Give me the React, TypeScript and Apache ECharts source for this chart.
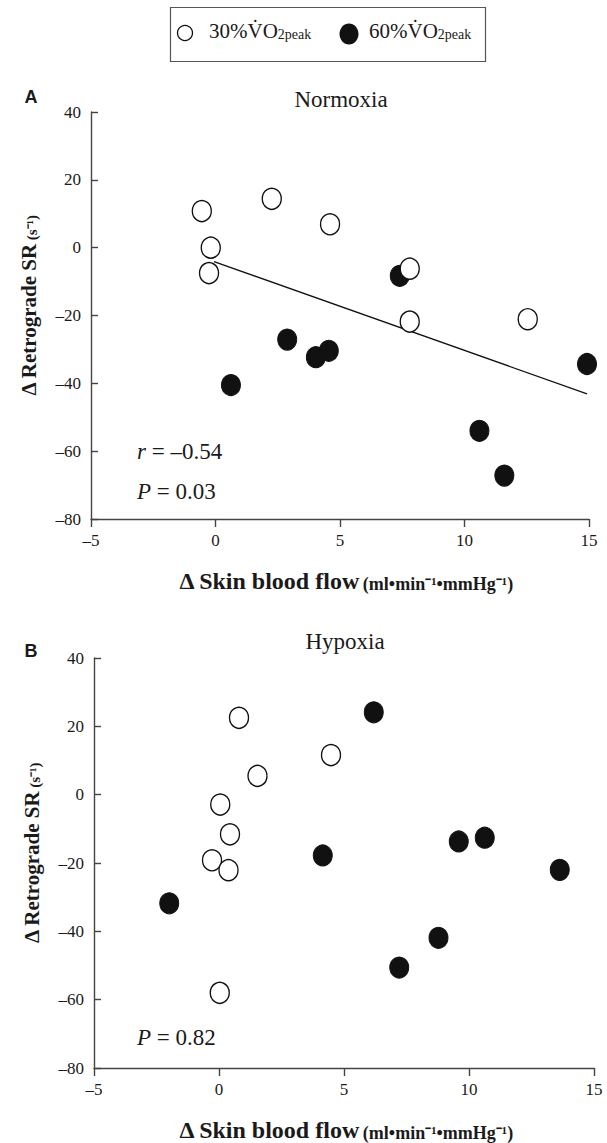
import React, { useEffect, useRef } from "react";
import * as echarts from "echarts";

// ---- Data ----
const xTicks = [-5, 0, 5, 10, 15];
const yTicks = [-80, -60, -40, -20, 0, 20, 40];

const legendNames = ["30%VO2peak", "60%VO2peak"];

const normoxia30 = [
  [-0.55, 10.8], [-0.19, 0], [-0.26, -7.5], [2.26, 14.4],
  [4.6, 6.9], [7.8, -6.2], [7.8, -21.8], [12.54, -21.1],
];
const normoxia60 = [
  [0.62, -40.5], [2.88, -27.1], [4.03, -32.3], [4.55, -30.4],
  [7.4, -8.3], [10.6, -54.0], [11.6, -67.2], [14.92, -34.3],
];
const normoxiaFit = [[-0.06, -4.1], [14.92, -43.1]];

const hypoxia30 = [
  [0.8, 22.5], [4.48, 11.6], [1.54, 5.5], [0.05, -2.9],
  [0.44, -11.6], [-0.28, -19.2], [0.38, -22.1], [0.03, -58.0],
];
const hypoxia60 = [
  [6.19, 24.1], [9.59, -13.7], [10.63, -12.6], [4.15, -17.8],
  [-1.99, -31.8], [13.63, -22.0], [8.78, -41.9], [7.21, -50.6],
];

const panelTitles = ["Normoxia", "Hypoxia"];
const statsA = ["r = –0.54", "P = 0.03"];
const statsB = ["P = 0.82"];

const SERIF = "'Liberation Serif', 'Times New Roman', serif";
const SANS = "'Liberation Sans', Arial, sans-serif";
const INK = "#1a1a1a";
const AXIS = "#444";

const fmt = (v: number) => String(v).replace("-", "–");

function xAxis(gridIndex: number, shift: number) {
  return {
    type: "value",
    gridIndex,
    min: xTicks[0],
    max: xTicks[xTicks.length - 1],
    interval: 5,
    splitLine: { show: false },
    axisLine: { show: true, onZero: false, lineStyle: { color: AXIS, width: 1.4 } },
    axisTick: { show: true, inside: false, length: 8, lineStyle: { color: AXIS, width: 1.4 } },
    axisLabel: { color: INK, fontFamily: SERIF, fontSize: 17, margin: 13, formatter: fmt },
    name: "{a|Δ Skin blood flow} {b|(ml•min⁻¹•mmHg⁻¹)}",
    nameLocation: "middle",
    nameGap: 50,
    nameTextStyle: {
      fontFamily: SERIF,
      padding: [0, 0, 0, shift],
      rich: {
        a: { fontFamily: SERIF, fontWeight: "bold", fontSize: 24, color: INK, verticalAlign: "bottom" },
        b: { fontFamily: SERIF, fontWeight: "bold", fontSize: 18, color: INK, verticalAlign: "bottom" },
      },
    },
  };
}

function yAxis(gridIndex: number) {
  return {
    type: "value",
    gridIndex,
    min: yTicks[0],
    max: yTicks[yTicks.length - 1],
    interval: 20,
    splitLine: { show: false },
    axisLine: { show: true, onZero: false, lineStyle: { color: AXIS, width: 1.4 } },
    axisTick: { show: true, inside: true, length: 7, lineStyle: { color: AXIS, width: 1.4 } },
    axisLabel: { color: INK, fontFamily: SERIF, fontSize: 17, margin: 10, formatter: fmt },
    name: "{a|Δ Retrograde SR} {b|(s⁻¹)}",
    nameLocation: "middle",
    nameRotate: 90,
    nameGap: 52,
    nameTextStyle: {
      fontFamily: SERIF,
      padding: [0, 0, 0, 20],
      rich: {
        a: { fontFamily: SERIF, fontWeight: "bold", fontSize: 21, color: INK, verticalAlign: "bottom" },
        b: { fontFamily: SERIF, fontWeight: "bold", fontSize: 15, color: INK, verticalAlign: "bottom" },
      },
    },
  };
}

const openStyle = { color: "#ffffff", borderColor: "#111", borderWidth: 1.4, opacity: 1 };
const filledStyle = { color: "#111", borderColor: "#111", borderWidth: 1, opacity: 1 };
const SYM: [number, number] = [19, 21];

function statText(x: number, y: number, s: string) {
  const [lhs, rhs] = s.split(" = ");
  return {
    type: "text",
    x,
    y,
    style: {
      text: `{i|${lhs}}{n| = ${rhs}}`,
      fontFamily: SERIF,
      fontSize: 23,
      verticalAlign: "middle",
      rich: {
        i: { fontFamily: SERIF, fontStyle: "italic", fontSize: 23, fill: INK },
        n: { fontFamily: SERIF, fontSize: 23, fill: INK },
      },
    },
  };
}

function legendText(x: number, name: string) {
  const main = name.replace("VO2peak", "V\u0307O");
  return {
    type: "text",
    x,
    y: 31,
    style: {
      text: `{a|${main}}{b|2peak}`,
      fontFamily: SERIF,
      verticalAlign: "middle",
      rich: {
        a: { fontFamily: SERIF, fontSize: 21, fill: INK, verticalAlign: "bottom" },
        b: { fontFamily: SERIF, fontSize: 14, fill: INK, verticalAlign: "bottom" },
      },
    },
  };
}

export default function App() {
  const ref = useRef<HTMLDivElement>(null);

  useEffect(() => {
    document.body.style.margin = "0";
    if (!ref.current) return;
    const chart = echarts.init(ref.current, undefined, { renderer: "svg" });

    const option = {
      animation: false,
      backgroundColor: "#ffffff",
      textStyle: { fontFamily: SERIF },
      title: [
        {
          text: panelTitles[0], left: 341, top: 88, textAlign: "center", padding: 0,
          textStyle: { fontFamily: SERIF, fontWeight: "normal", fontSize: 23, color: INK },
        },
        {
          text: panelTitles[1], left: 345, top: 630, textAlign: "center", padding: 0,
          textStyle: { fontFamily: SERIF, fontWeight: "normal", fontSize: 23, color: INK },
        },
      ],
      grid: [
        { left: 91, top: 112, width: 498, height: 407, containLabel: false },
        { left: 94, top: 658, width: 500, height: 410, containLabel: false },
      ],
      xAxis: [xAxis(0, 12), xAxis(1, 4)],
      yAxis: [yAxis(0), yAxis(1)],
      series: [
        {
          type: "line", xAxisIndex: 0, yAxisIndex: 0, data: normoxiaFit, symbol: "none",
          lineStyle: { color: "#111", width: 1.3 }, silent: true, z: 1,
        },
        {
          name: legendNames[1], type: "scatter", xAxisIndex: 0, yAxisIndex: 0,
          data: normoxia60, symbol: "circle", symbolSize: SYM, itemStyle: filledStyle, z: 2,
        },
        {
          name: legendNames[0], type: "scatter", xAxisIndex: 0, yAxisIndex: 0,
          data: normoxia30, symbol: "circle", symbolSize: SYM, itemStyle: openStyle, z: 3,
        },
        {
          name: legendNames[1], type: "scatter", xAxisIndex: 1, yAxisIndex: 1,
          data: hypoxia60, symbol: "circle", symbolSize: SYM, itemStyle: filledStyle, z: 2,
        },
        {
          name: legendNames[0], type: "scatter", xAxisIndex: 1, yAxisIndex: 1,
          data: hypoxia30, symbol: "circle", symbolSize: SYM, itemStyle: openStyle, z: 3,
        },
      ],
      graphic: [
        {
          type: "rect", shape: { x: 170.5, y: 7.5, width: 315, height: 54 },
          style: { fill: "none", stroke: "#555", lineWidth: 1.2 },
        },
        { type: "circle", shape: { cx: 185, cy: 33, r: 7.5 }, style: { fill: "#fff", stroke: "#111", lineWidth: 1.3 } },
        { type: "ellipse", shape: { cx: 349, cy: 34, rx: 9.5, ry: 10.5 }, style: { fill: "#111" } },
        legendText(209, legendNames[0]),
        legendText(369, legendNames[1]),
        {
          type: "text", x: 31, y: 97,
          style: { text: "A", fontFamily: SANS, fontWeight: "bold", fontSize: 18, fill: INK, align: "center", verticalAlign: "middle" },
        },
        {
          type: "text", x: 31, y: 651,
          style: { text: "B", fontFamily: SANS, fontWeight: "bold", fontSize: 18, fill: INK, align: "center", verticalAlign: "middle" },
        },
        statText(137, 451, statsA[0]),
        statText(137, 491, statsA[1]),
        statText(137, 1037, statsB[0]),
      ],
    };

    chart.setOption(option as any);
    return () => chart.dispose();
  }, []);

  return <div ref={ref} style={{ width: 607, height: 1143 }} />;
}
